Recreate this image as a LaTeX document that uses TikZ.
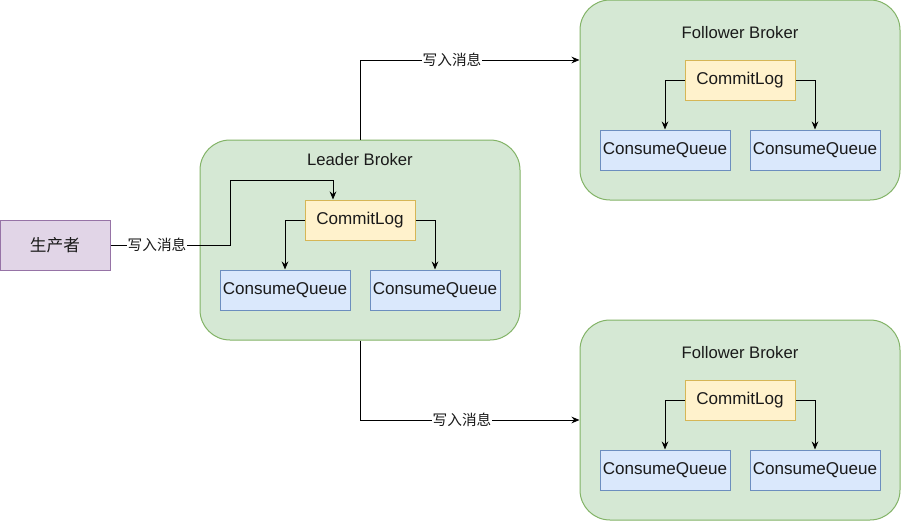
\documentclass[tikz,border=0pt]{standalone}
\usepackage{fontspec}
\setmainfont{Liberation Sans}
\newfontfamily\cjk{Noto Sans CJK SC}
\usetikzlibrary{arrows.meta}
\definecolor{brokerfill}{HTML}{D5E8D4}
\definecolor{brokerdraw}{HTML}{82B366}
\definecolor{logfill}{HTML}{FFF2CC}
\definecolor{logdraw}{HTML}{D6B656}
\definecolor{cqfill}{HTML}{DAE8FC}
\definecolor{cqdraw}{HTML}{6C8EBF}
\definecolor{prodfill}{HTML}{E1D5E7}
\definecolor{proddraw}{HTML}{9673A6}
\definecolor{txt}{HTML}{1A1A1A}
\begin{document}
\begin{tikzpicture}[x=0.75pt,y=-0.75pt,
  broker/.style={draw=brokerdraw,fill=brokerfill,rounded corners=22.5pt,line width=0.75pt,minimum width=240pt,minimum height=150pt,inner sep=0pt},
  logbox/.style={draw=logdraw,fill=logfill,line width=0.75pt,minimum width=82.5pt,minimum height=30pt,inner sep=0pt,font=\fontsize{12.8}{15}\selectfont,text=txt},
  cqbox/.style={draw=cqdraw,fill=cqfill,line width=0.75pt,minimum width=97.5pt,minimum height=30pt,inner sep=0pt,font=\fontsize{12.8}{15}\selectfont,text=txt},
  prodbox/.style={draw=proddraw,fill=prodfill,line width=0.75pt,minimum width=82.5pt,minimum height=37.5pt,inner sep=0pt,font=\cjk\fontsize{12.5}{15}\selectfont,text=txt},
  title/.style={font=\fontsize{12.5}{15}\selectfont,text=txt,inner sep=0pt},
  lbl/.style={fill=white,font=\cjk\fontsize{11}{13}\selectfont,inner sep=0.5pt,text=txt},
  conn/.style={draw=black,line width=0.75pt,-{Stealth[length=6pt,width=5pt]}}
]
\useasboundingbox (0,0) rectangle (901,521);
% producer
\node[prodbox] (prod) at (55,245) {生产者};
% leader
\node[broker] (leader) at (360,240) {};
\node[title] (ltitle) at (360,160) {Leader Broker};
\node[logbox] (lcl) at (360,220) {CommitLog};
\node[cqbox] (lcq1) at (285,290) {ConsumeQueue};
\node[cqbox] (lcq2) at (435,290) {ConsumeQueue};
% follower top
\node[broker] (f1) at (740,100) {};
\node[title] (f1title) at (740,33) {Follower Broker};
\node[logbox] (f1cl) at (740,80) {CommitLog};
\node[cqbox] (f1cq1) at (665,150) {ConsumeQueue};
\node[cqbox] (f1cq2) at (815,150) {ConsumeQueue};
% follower bottom
\node[broker] (f2) at (740,420) {};
\node[title] (f2title) at (740,353) {Follower Broker};
\node[logbox] (f2cl) at (740,400) {CommitLog};
\node[cqbox] (f2cq1) at (665,470) {ConsumeQueue};
\node[cqbox] (f2cq2) at (815,470) {ConsumeQueue};
% connectors
\coordinate (p1) at (230,245);
\coordinate (p2) at (230,180);
\draw[conn] (prod.east) -- (p1) -- (p2) -- (333,180) -- (lcl.north -| 333,0);
\node[lbl] (l1) at (157,245) {写入消息};
\draw[conn] (leader.north) -- (360,60) -- (f1.west |- 0,60);
\node[lbl] (l2) at (452,60) {写入消息};
\draw[conn] (leader.south) -- (360,420) -- (f2.west |- 0,420);
\node[lbl] (l3) at (462,420) {写入消息};
\foreach \c/\a/\b in {lcl/lcq1/lcq2,f1cl/f1cq1/f1cq2,f2cl/f2cq1/f2cq2}{
  \draw[conn] (\c.west) -| (\a.north);
  \draw[conn] (\c.east) -| (\b.north);
}
\end{tikzpicture}
\end{document}
